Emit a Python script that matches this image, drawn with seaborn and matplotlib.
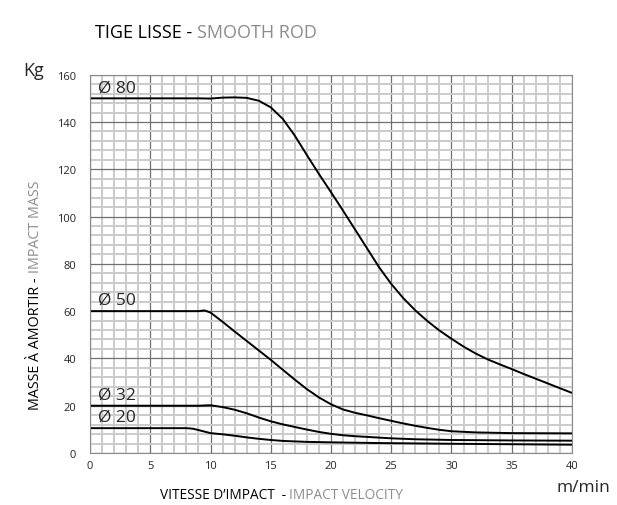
import numpy as np
import pandas as pd
import matplotlib
matplotlib.use('Agg')
import matplotlib.pyplot as plt
import seaborn as sns
from matplotlib.ticker import MultipleLocator

# data (impact velocity m/min -> mass kg)
x_80 = [0, 5, 9, 10, 11, 12, 13, 14, 15, 16, 17, 18, 19, 20, 21, 22, 23, 24, 25,
        26, 27, 28, 29, 30, 31, 32, 33, 34, 35, 36, 37, 38, 39, 40]
y_80 = [150, 150, 150, 149.9, 150.3, 150.4, 150.2, 149, 146.2, 141.3, 134.2, 126,
        118, 110.3, 102.5, 94.5, 86.5, 78.5, 71.5, 65.5, 60.3, 55.8, 51.8, 48.3, 45,
        42.1, 39.6, 37.5, 35.5, 33.4, 31.4, 29.4, 27.4, 25.4]

x_50 = [0, 5, 9, 9.5, 10, 11, 12, 13, 14, 15, 16, 17, 18, 19, 20, 21, 22, 23, 24,
        25, 26, 27, 28, 29, 30, 32, 35, 40]
y_50 = [60, 60, 60, 60.3, 59.4, 55.5, 51.4, 47.4, 43.4, 39.4, 35.2, 31, 27, 23.5,
        20.6, 18.4, 17, 15.9, 14.7, 13.6, 12.5, 11.5, 10.6, 9.8, 9.2, 8.7, 8.4, 8.3]

x_32 = [0, 5, 9, 10, 11, 12, 13, 14, 15, 16, 17, 18, 19, 20, 21, 22, 23, 24, 25,
        27, 30, 35, 40]
y_32 = [20, 20, 20, 20.2, 19.4, 18.3, 16.8, 15, 13.4, 12.1, 11, 9.9, 8.9, 8.1, 7.5,
        7.1, 6.8, 6.5, 6.2, 5.8, 5.5, 5.3, 5.2]

x_20 = [0, 5, 8, 8.5, 9, 10, 11, 12, 13, 14, 15, 16, 17, 18, 20, 24, 30, 35, 40]
y_20 = [10.5, 10.5, 10.5, 10.3, 9.7, 8.4, 7.9, 7.3, 6.6, 6, 5.5, 5.1, 4.9, 4.7,
        4.5, 4.2, 3.9, 3.7, 3.5]

labels = ['Ø 80', 'Ø 50', 'Ø 32', 'Ø 20']
label_y = [150, 60, 20, 10.5]

x_ticks = [0, 5, 10, 15, 20, 25, 30, 35, 40]
y_ticks = [0, 20, 40, 60, 80, 100, 120, 140, 160]

frames = []
for name, xs, ys in zip(labels, [x_80, x_50, x_32, x_20], [y_80, y_50, y_32, y_20]):
    frames.append(pd.DataFrame({'v': xs, 'm': ys, 'rod': name}))
df = pd.concat(frames, ignore_index=True)

sns.set_style('white')
plt.rcParams['font.family'] = ['Open Sans', 'DejaVu Sans']

fig = plt.figure(figsize=(6.17, 5.06), dpi=100)
ax = fig.add_axes([0.1459, 0.1028, 0.927 - 0.1459, 0.8504 - 0.1028])

# graph paper grid
ax.xaxis.set_minor_locator(MultipleLocator(1))
ax.yaxis.set_minor_locator(MultipleLocator(4))
ax.grid(which='minor', color='#cbcbcb', lw=1.4)
ax.grid(which='major', color='#707070', lw=0.9)
ax.set_axisbelow(True)

sns.lineplot(data=df, x='v', y='m', units='rod', estimator=None, color='black',
             lw=1.4, sort=False, ax=ax)

for lab, yv in zip(labels, label_y):
    ax.text(0.7, yv + 1.3, lab, fontsize=12.5, va='bottom', ha='left')

ax.set_xlim(0, 40)
ax.set_ylim(0, 160)
ax.set_xticks(x_ticks)
ax.set_yticks(y_ticks)
ax.tick_params(which='both', length=0, labelsize=8)
ax.tick_params(axis='y', pad=10)
ax.tick_params(axis='x', pad=5)
for s in ax.spines.values():
    s.set_color('#8a8a8a')
    s.set_linewidth(0.8)
ax.set_xlabel('')
ax.set_ylabel('')

# titles and axis labels
t1 = fig.text(0.154, 0.925, 'TIGE LISSE - ', fontsize=13, color='black', va='baseline')
ax.annotate('SMOOTH ROD', xy=(1, 0), xycoords=t1, va='bottom', fontsize=13,
            color='#8c8c8c')

xl = fig.text(0.259, 0.006, 'VITESSE D\u2019IMPACT  - ', fontsize=9.8, color='black', va='bottom')
ax.annotate('IMPACT VELOCITY', xy=(1, 0), xycoords=xl, va='bottom', fontsize=9.8,
            color='#8c8c8c')

yl = fig.text(0.057, 0.19, 'MASSE À AMORTIR - ', fontsize=10.3, color='black',
              rotation=90, ha='center', va='bottom')
ax.annotate('IMPACT MASS', xy=(0.5, 1), xycoords=yl, fontsize=10.3, color='#8c8c8c',
            rotation=90, ha='center', va='bottom')

fig.text(0.038, 0.85, 'Kg', fontsize=13)
fig.text(0.902, 0.027, 'm/min', fontsize=12.5)

fig.savefig('out.png', dpi=100)
